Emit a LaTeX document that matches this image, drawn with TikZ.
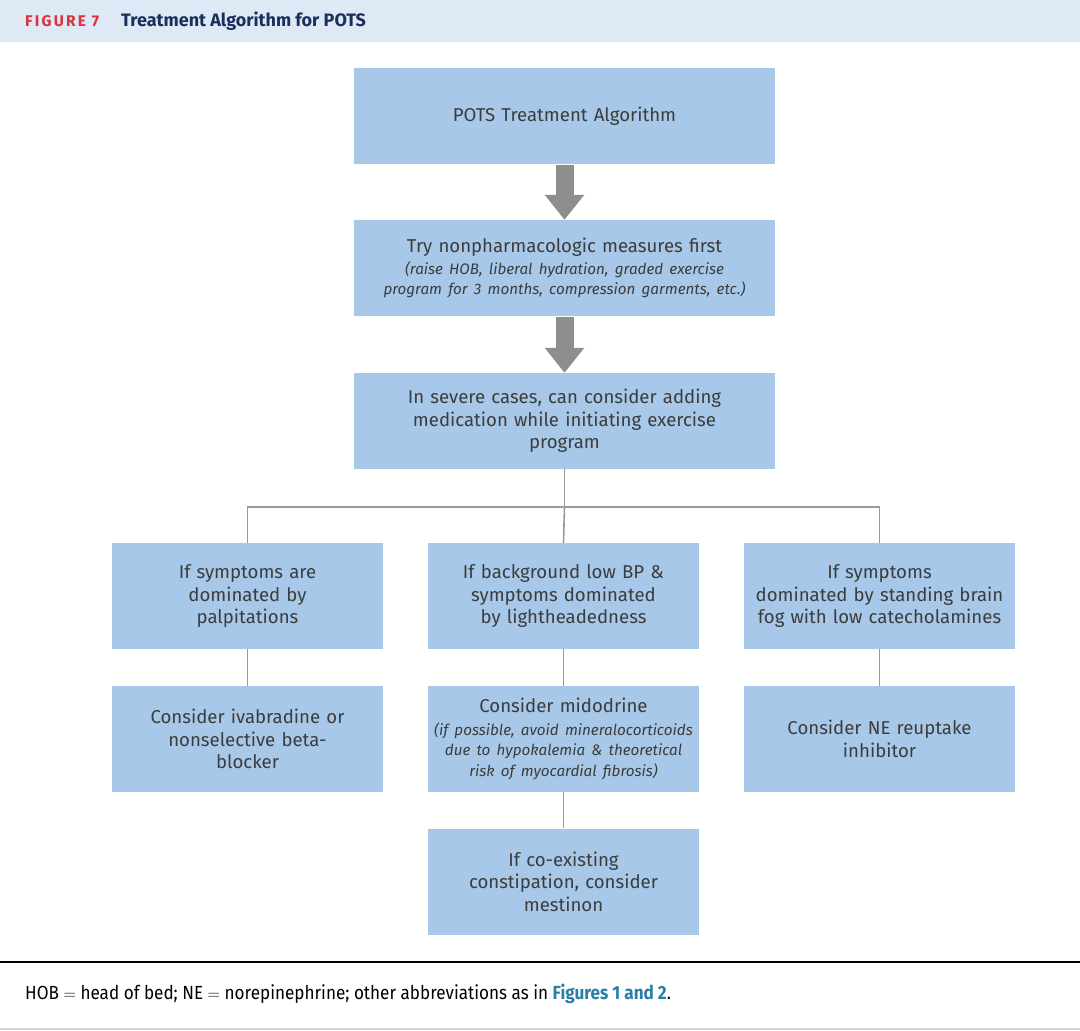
\documentclass[tikz,border=0pt]{standalone}
\usepackage{fontspec}
\setmainfont{Fira Sans}
\newfontfamily\footfont[FakeStretch=0.9]{Fira Sans}
\newfontfamily\figfont[LetterSpace=14]{Fira Sans}
\usetikzlibrary{arrows.meta}
\definecolor{boxblue}{HTML}{A7C8E8}
\definecolor{bandblue}{HTML}{DFE9F5}
\definecolor{txtgray}{HTML}{3C3C3C}
\definecolor{arrgray}{HTML}{8E8E8E}
\definecolor{lingray}{HTML}{9A9A9A}
\definecolor{figred}{HTML}{D9333F}
\definecolor{navy}{HTML}{1A2F5C}
\definecolor{linkblue}{HTML}{2A7FA8}
\newcommand\notefont{\itshape\fontsize{15.2}{20.5}\selectfont}
\tikzset{
  bigbox/.style={fill=boxblue, draw=none, minimum width=421pt, minimum height=96pt, inner sep=0pt, align=center, text width=414pt, text=txtgray, font=\fontsize{18.6}{22.5}\selectfont},
  smallbox/.style={fill=boxblue, draw=none, minimum width=271pt, minimum height=106pt, inner sep=0pt, align=center, text width=266pt, text=txtgray, font=\fontsize{18.6}{22.5}\selectfont},
  bigarrow/.style={line width=18pt, draw=arrgray, -{Triangle[width=38pt,length=25pt]}, shorten <=1pt},
  link/.style={draw=lingray, line width=1.6pt}
}
\begin{document}
\begin{tikzpicture}[x=1pt,y=-1pt]
\useasboundingbox (0,0) rectangle (1080,1031);
\fill[white] (0,0) rectangle (1080,1031);
% header band
\fill[bandblue] (0,0) rectangle (1080,42);
\node[anchor=west, inner sep=0pt, text=figred, font=\figfont\bfseries\fontsize{15.5}{16}\selectfont] (fig) at (25,21) {FIGURE 7};
\node[anchor=west, inner sep=0pt, text=navy, font=\bfseries\fontsize{18}{19}\selectfont] (ttl) at (121,21) {Treatment Algorithm for POTS};
% main column
\node[bigbox] (b1) at (564.5,116) {POTS Treatment Algorithm};
\node[bigbox] (b2) at (564.5,268) {Try nonpharmacologic measures first\par\vspace{1pt}
  {\notefont (raise HOB, liberal hydration, graded exercise\\program for 3 months, compression garments, etc.)\par}};
\node[bigbox] (b3) at (564.5,421) {In severe cases, can consider adding\\medication while initiating exercise\\program};
\draw[bigarrow] (b1.south) -- (b2.north);
\draw[bigarrow] (b2.south) -- (b3.north);
% row 2
\node[smallbox] (l1) at (247.5,596) {If symptoms are\\dominated by\\palpitations};
\node[smallbox] (m1) at (563.5,596) {If background low BP \&\\symptoms dominated\\by lightheadedness};
\node[smallbox] (r1) at (879.5,596) {If symptoms\\dominated by standing brain\\fog with low catecholamines};
% row 3
\node[smallbox] (l2) at (247.5,739) {Consider ivabradine or\\nonselective beta-\\blocker};
\node[smallbox] (m2) at (563.5,739) {Consider midodrine\par\vspace{2pt}
  {\notefont (if possible, avoid mineralocorticoids\\due to hypokalemia \& theoretical\\risk of myocardial fibrosis)\par}};
\node[smallbox] (r2) at (879.5,739) {Consider NE reuptake\\inhibitor};
% row 4
\node[smallbox] (m3) at (563.5,881.5) {If co-existing\\constipation, consider\\mestinon};
% connectors
\coordinate (split) at (564.5,507);
\draw[link] (b3.south) -- (split);
\draw[link] (split) -| (l1.north);
\draw[link] (split) -| (r1.north);
\draw[link] (split) -- (m1.north);
\draw[link] (l1.south) -- (l2.north);
\draw[link] (m1.south) -- (m2.north);
\draw[link] (r1.south) -- (r2.north);
\draw[link] (m2.south) -- (m3.north);
% footer
\coordinate (fl) at (0,962);
\coordinate (fr) at (1080,962);
\draw[black, line width=2pt] (fl) -- (fr);
\node[anchor=west, inner sep=0pt, text=black, font=\footfont\fontsize{19}{20}\selectfont] (foot) at (25,994)
  {HOB $=$ head of bed; NE $=$ norepinephrine; other abbreviations as in \textcolor{linkblue}{\bfseries Figures 1 and 2}.};
\coordinate (gl) at (0,1029);
\coordinate (gr) at (1080,1029);
\draw[lightgray!70, line width=1.5pt] (gl) -- (gr);
\end{tikzpicture}
\end{document}
